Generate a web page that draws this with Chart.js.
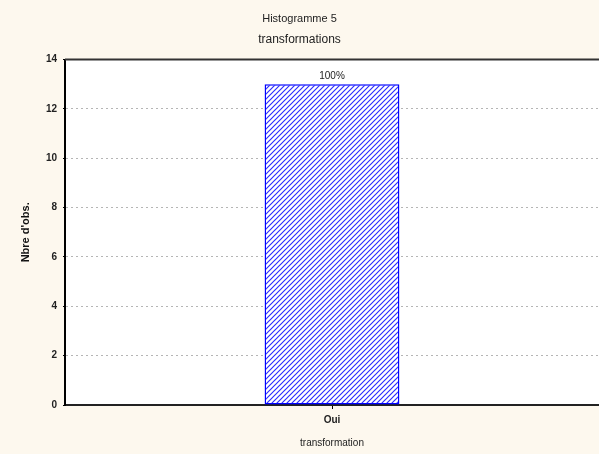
<!DOCTYPE html>
<html>
<head>
<meta charset="utf-8">
<script src="https://cdn.jsdelivr.net/npm/chart.js@4"></script>
<style>
	html, body { margin: 0; padding: 0; background: #fdf8ee; }
	#wrap { width: 599px; height: 454px; }
</style>
</head>
<body>
<div id="wrap"><canvas id="histo"></canvas></div>
<script>
// =================== DATA ===================
const categories = ["Oui"];
const counts = [13];
const percentLabels = ["100%"];
const yTicks = { min: 0, max: 14, step: 2 };

const FONT = "'Liberation Sans', Arial, sans-serif";

// =================== HELPERS ===================
function makeHatch() {
	const size = 5;
	const c = document.createElement("canvas");
	c.width = size;
	c.height = size;
	const g = c.getContext("2d");
	g.fillStyle = "#fff";
	g.fillRect(0, 0, size, size);
	g.strokeStyle = "#2a2aff";
	g.lineWidth = 1.15;
	g.beginPath();
	g.moveTo(-1, size + 1);
	g.lineTo(size + 1, -1);
	g.moveTo(-1, 1);
	g.lineTo(1, -1);
	g.moveTo(size - 1, size + 1);
	g.lineTo(size + 1, size - 1);
	g.stroke();
	return g.createPattern(c, "repeat");
}

// white plot area + dark frame on top
const plotFrame = {
	id: "plotFrame",
	beforeDraw(chart) {
		const { ctx, chartArea: a } = chart;
		ctx.save();
		ctx.fillStyle = "#fff";
		ctx.fillRect(a.left, a.top, a.right - a.left, a.bottom - a.top);
		ctx.restore();
	},
	afterDraw(chart) {
		const { ctx, chartArea: a } = chart;
		ctx.save();
		ctx.strokeStyle = "#333";
		ctx.lineWidth = 2;
		ctx.beginPath();
		ctx.moveTo(a.left, a.top);
		ctx.lineTo(a.right, a.top);
		ctx.stroke();
		ctx.restore();
	},
};

// percent text above each bar
const barLabels = {
	id: "barLabels",
	afterDatasetsDraw(chart) {
		const { ctx } = chart;
		const meta = chart.getDatasetMeta(0);
		ctx.save();
		ctx.fillStyle = "#222";
		ctx.font = `10px ${FONT}`;
		ctx.textAlign = "center";
		ctx.textBaseline = "bottom";
		meta.data.forEach((bar, i) => {
			ctx.fillText(percentLabels[i], bar.x, bar.y - 3);
		});
		ctx.restore();
	},
};

// =================== CHART ===================
new Chart(document.getElementById("histo"), {
	type: "bar",
	data: {
		labels: categories,
		datasets: [
			{
				data: counts,
				backgroundColor: makeHatch(),
				borderColor: "#0000ff",
				borderWidth: 1.5,
				borderSkipped: false,
				categoryPercentage: 0.5,
				barPercentage: 0.505,
			},
		],
	},
	options: {
		responsive: true,
		maintainAspectRatio: false,
		animation: false,
		layout: { padding: { left: 0, right: 0, top: 0, bottom: 5 } },
		plugins: {
			legend: { display: false },
			tooltip: { enabled: false },
			title: {
				display: true,
				text: "Histogramme 5",
				color: "#222",
				font: { family: FONT, size: 11, weight: "normal" },
				padding: { top: 12, bottom: 7 },
			},
			subtitle: {
				display: true,
				text: "transformations",
				color: "#222",
				font: { family: FONT, size: 12, weight: "normal" },
				padding: { top: 0, bottom: 13 },
			},
		},
		scales: {
			x: {
				offset: true,
				grid: {
					offset: false,
					drawOnChartArea: false,
					tickLength: 4,
					tickColor: "#000",
				},
				border: { color: "#222", width: 2 },
				ticks: {
					color: "#222",
					font: { family: FONT, size: 10, weight: "bold" },
					padding: 5,
				},
				title: {
					display: true,
					text: "transformation",
					color: "#222",
					font: { family: FONT, size: 10 },
					padding: { top: 6, bottom: 0 },
				},
			},
			y: {
				min: yTicks.min,
				max: yTicks.max,
				afterFit(scale) {
					scale.width = 65;
				},
				ticks: {
					stepSize: yTicks.step,
					color: "#222",
					font: { family: FONT, size: 10, weight: "bold" },
					padding: 6,
				},
				grid: {
					color: "#b5b5b5",
					tickColor: "#000",
					tickLength: 2,
				},
				border: { color: "#000", width: 2, dash: [2, 3] },
				title: {
					display: true,
					text: "Nbre d'obs.",
					color: "#111",
					font: { family: FONT, size: 11, weight: "bold" },
					padding: { top: 19, bottom: 10 },
				},
			},
		},
	},
	plugins: [plotFrame, barLabels],
});
</script>
</body>
</html>
